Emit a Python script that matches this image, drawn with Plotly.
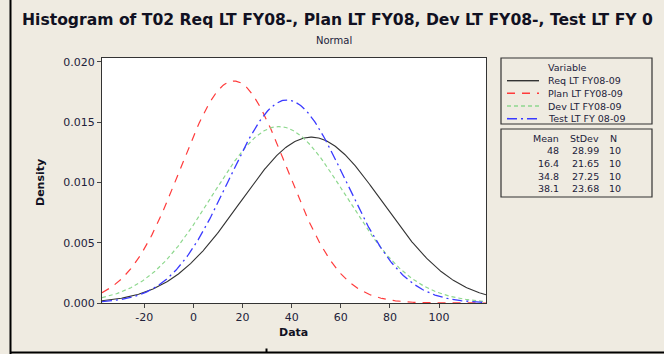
import numpy as np
import plotly.graph_objects as go

# ---- data ----
variables = ["Req LT FY08-09", "Plan LT FY08-09", "Dev LT FY08-09", "Test LT FY 08-09"]
means = [48, 16.4, 34.8, 38.1]
stdevs = [28.99, 21.65, 27.25, 23.68]
counts = [10, 10, 10, 10]
mean_labels = ["48", "16.4", "34.8", "38.1"]
stdev_labels = ["28.99", "21.65", "27.25", "23.68"]
x_range = [-37.2, 119.1]
x_ticks = [-20, 0, 20, 40, 60, 80, 100]
x_tick_labels = ["-20", "0", "20", "40", "60", "80", "100"]
y_ticks = [0.0, 0.005, 0.010, 0.015, 0.020]
y_tick_labels = ["0.000", "0.005", "0.010", "0.015", "0.020"]

# ---- styles ----
colors = ["#333333", "#FF3B3B", "#8ED88E", "#3A3AFF"]
dashes = ["solid", "8px,7px", "4px,3px", "10px,4px,2px,4px"]
widths = [1.1, 1.2, 1.2, 1.3]
BG = "#EFEBE1"
TXT = "#22223A"
FONT = "DejaVu Sans"

W, H = 664, 354
L, R, T, B = 102, 486, 58, 303


def px(x):
    return (x - L) / (R - L)


def py(y):
    return (B - y) / (B - T)


fig = go.Figure()
xs = np.linspace(x_range[0], x_range[1], 400)
for name, m, s, c, d, w in zip(variables, means, stdevs, colors, dashes, widths):
    dens = np.exp(-0.5 * ((xs - m) / s) ** 2) / (s * np.sqrt(2 * np.pi))
    fig.add_trace(go.Scatter(x=xs, y=dens, mode="lines", name=name,
                             line=dict(color=c, dash=d, width=w), showlegend=False))

shapes = []
ann = []


def text(x, y, t, anchor="left", size=9.5, color=TXT, **kw):
    ann.append(dict(x=px(x), y=py(y), xref="paper", yref="paper", text=t, showarrow=False,
                    xanchor=anchor, yanchor="middle",
                    font=dict(size=size, color=color, family=FONT), **kw))


# window borders
shapes.append(dict(type="line", xref="paper", yref="paper", x0=px(10.5), x1=px(10.5),
                   y0=py(0), y1=py(354), line=dict(color="black", width=2)))
shapes.append(dict(type="line", xref="paper", yref="paper", x0=px(10), x1=px(664),
                   y0=py(352.5), y1=py(352.5), line=dict(color="black", width=2)))
shapes.append(dict(type="line", xref="paper", yref="paper", x0=px(266.5), x1=px(266.5),
                   y0=py(352), y1=py(348.5), line=dict(color="black", width=2)))

# legend box
shapes.append(dict(type="rect", xref="paper", yref="paper", x0=px(501), x1=px(652),
                   y0=py(58), y1=py(124), line=dict(color="#333333", width=1.2)))
text(546, 67.5, "Variable")
rows = [80.7, 93.3, 106, 118.7]
for name, c, d, w, yy in zip(variables, colors, dashes, widths, rows):
    shapes.append(dict(type="line", xref="paper", yref="paper", x0=px(507), x1=px(539),
                       y0=py(yy), y1=py(yy), line=dict(color=c, dash=d, width=w + 0.3)))
    text(546, yy, name)

# stats box
shapes.append(dict(type="rect", xref="paper", yref="paper", x0=px(501), x1=px(652),
                   y0=py(129), y1=py(197), line=dict(color="#333333", width=1.2)))
hy = 138.7
text(561, hy, "Mean", "right")
text(601, hy, "StDev", "right")
text(608, hy, "N")
srows = [150.7, 163.5, 176, 188.7]
for ml, sl, n, yy in zip(mean_labels, stdev_labels, counts, srows):
    text(561, yy, ml, "right")
    text(601, yy, sl, "right")
    text(607, yy, str(n))

# titles
text(337, 20, "<b>Histogram of T02 Req LT FY08-, Plan LT FY08, Dev LT FY08-, Test LT FY 0</b>",
     "center", size=15.6, color="#111122")
text(334, 40.5, "Normal", "center", size=10)
text(40, 183, "<b>Density</b>", "center", size=11, color="#111122", textangle=-90)
text(293, 332, "<b>Data</b>", "center", size=11, color="#111122")

fig.update_layout(
    width=W, height=H,
    margin=dict(l=L, r=W - R, t=T, b=H - B, pad=0),
    paper_bgcolor=BG, plot_bgcolor="white",
    shapes=shapes, annotations=ann, showlegend=False,
    font=dict(family=FONT, size=11, color=TXT),
)
fig.update_xaxes(range=x_range, tickvals=x_ticks, ticktext=x_tick_labels, ticks="outside",
                 ticklen=4, tickcolor="#444",
                 showline=True, linecolor="#333", linewidth=1, mirror=True, showgrid=False,
                 zeroline=False, tickfont=dict(size=11, color=TXT, family=FONT))
fig.update_yaxes(range=[0, 0.02033], tickvals=y_ticks, ticktext=y_tick_labels, ticks="outside",
                 ticklen=4, tickcolor="#444", showline=True, linecolor="#333", linewidth=1,
                 mirror=True, showgrid=False, zeroline=False,
                 tickfont=dict(size=11, color=TXT, family=FONT))

fig.write_html("out.html", config={"displayModeBar": False},
               post_script="document.body.style.margin='0';")
